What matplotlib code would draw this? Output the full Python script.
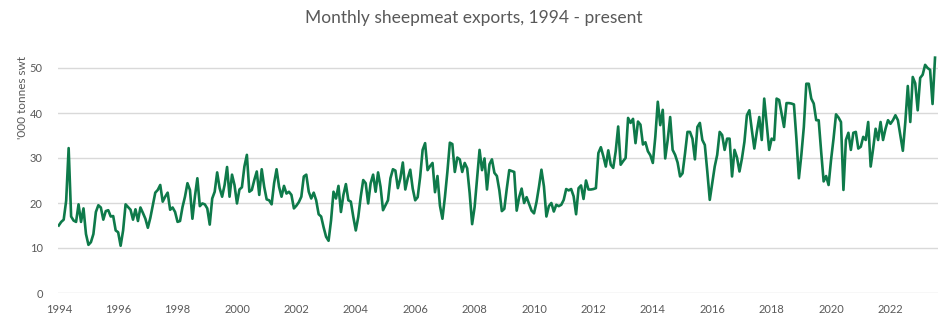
import matplotlib
matplotlib.use("Agg")
import matplotlib.pyplot as plt
import numpy as np

# Monthly sheepmeat exports ('000 tonnes swt), Jan 1994 onward
y1994 = [15, 15.8, 16.3, 20.5, 32.2, 17, 16.1, 15.8, 19.7, 15.8, 18.8, 13.1]
y1995 = [10.7, 11.3, 13.1, 18, 19.5, 19, 16.3, 18.2, 18.4, 17, 17.1, 13.9]
y1996 = [13.5, 10.5, 13.9, 19.7, 19.1, 18.5, 16.3, 18.6, 16, 19, 17.8, 16.5]
y1997 = [14.5, 16.7, 19.5, 22.3, 22.9, 24, 20.3, 21.4, 22.3, 18.5, 19, 18]
y1998 = [15.8, 16, 19.1, 21.4, 24.4, 22.9, 16.5, 21.4, 25.5, 19.3, 19.9, 19.7]
y1999 = [18.8, 15.2, 21, 22.5, 26.8, 23.3, 21.4, 24, 28, 21.4, 26.3, 24]
y2000 = [19.9, 23, 23.5, 28.1, 30.7, 22.5, 22.9, 25.1, 27, 21.8, 27.5, 23.6]
y2001 = [20.8, 20.6, 19.7, 24.4, 27.5, 23.6, 21.4, 23.8, 22.1, 22.5, 21.8, 18.8]
y2002 = [19.4, 20.2, 21.4, 25.9, 26.3, 22.5, 21, 22.3, 20.6, 17.5, 17, 14.6]
y2003 = [12.5, 11.6, 16.1, 22.5, 21, 23.8, 18, 21.8, 24.2, 20.6, 20.3, 16.9]
y2004 = [13.9, 16.9, 21.4, 25.1, 24.4, 19.9, 24.4, 26.3, 22.5, 26.8, 23.6, 18.4]
y2005 = [19.5, 20.6, 25.5, 27.5, 27.2, 23.3, 25.5, 29, 23, 25.5, 27.4, 23.2]
y2006 = [20.6, 21.3, 25.8, 31.8, 33.3, 27.3, 28.2, 28.9, 22.4, 26, 19.4, 16.5]
y2007 = [21.3, 26.9, 33.4, 33.1, 26.9, 30.1, 29.7, 26.9, 28.9, 27.7, 22.2, 15.3]
y2008 = [19.1, 25.4, 31.8, 27.3, 29.9, 23, 28.6, 29.7, 26.7, 26, 22.8, 18.2]
y2009 = [18.7, 23.2, 27.3, 27.1, 26.9, 18.3, 21.3, 23.2, 20, 21.3, 19.8, 18.3]
y2010 = [17.7, 20.2, 23.6, 27.4, 23.7, 17, 19.3, 20, 18.1, 19.6, 19.3, 19.6]
y2011 = [20.7, 23.1, 22.8, 23.1, 21.5, 17.5, 23.3, 23.9, 20.9, 25, 23, 23]
y2012 = [23.1, 23.3, 31.1, 32.4, 30.4, 28.1, 31.7, 28.5, 27.8, 31.5, 37, 28.5]
y2013 = [29.3, 30, 38.9, 37.8, 38.7, 33.3, 38.1, 37.4, 33, 33.5, 31.5, 30.6]
y2014 = [28.9, 34.7, 42.5, 37.3, 40.7, 29.9, 34, 39.1, 31.8, 30.7, 29, 25.9]
y2015 = [26.6, 31, 35.8, 35.8, 34.3, 29.7, 36.9, 37.8, 34, 32.9, 27, 20.7]
y2016 = [24.4, 28.1, 30.7, 35.8, 35.1, 31.8, 34.3, 34.3, 25.9, 31.8, 30.1, 27]
y2017 = [29.9, 33.6, 39.5, 40.6, 36.2, 32.1, 35.8, 39.1, 34, 43.2, 37.6, 31.8]
y2018 = [34.3, 34, 43.2, 42.9, 39.9, 36.9, 42.2, 42.2, 42.1, 41.9, 34.3, 25.5]
y2019 = [30.7, 36.9, 46.5, 46.5, 43.2, 42.1, 38.4, 38.4, 31.4, 24.8, 26, 24]
y2020 = [29.6, 34.3, 39.7, 39, 38, 22.9, 34, 35.6, 31.8, 35.6, 35.8, 32.1]
y2021 = [32.5, 34.7, 34, 38, 28.1, 32.1, 36.5, 34, 38, 34, 36.5, 38.4]
y2022 = [37.6, 38.4, 39.5, 38.4, 35, 31.6, 38, 46, 38, 48, 46.6, 40.6]
y2023 = [47.8, 48.5, 50.7, 50, 49.6, 42, 52.3]

tick_years = list(range(1994, 2024, 2))
yticks = [0, 10, 20, 30, 40, 50]

title = "Monthly sheepmeat exports, 1994 - present"
ylabel = "'000 tonnes swt"

series = (y1994 + y1995 + y1996 + y1997 + y1998 + y1999 + y2000 + y2001 + y2002 +
          y2003 + y2004 + y2005 + y2006 + y2007 + y2008 + y2009 + y2010 + y2011 +
          y2012 + y2013 + y2014 + y2015 + y2016 + y2017 + y2018 + y2019 + y2020 +
          y2021 + y2022 + y2023)
idx = np.arange(len(series))

plt.rcParams['font.family'] = ['Lato', 'DejaVu Sans']
grey = '#595959'

fig = plt.figure(figsize=(9.48, 3.23), dpi=100)
ax = fig.add_axes([58 / 948, 30 / 323, 880 / 948, 247.5 / 323])

ax.plot(idx, series, color='#0e7a4a', linewidth=1.9, solid_joinstyle='round')

ax.set_xlim(-0.3, len(series) + 0.2)
ax.set_ylim(0, 55)
ax.set_yticks(yticks)
ax.set_xticks([(y - 1994) * 12 for y in tick_years])
ax.set_xticklabels([str(y) for y in tick_years])
ax.grid(axis='y', color='#d9d9d9', linewidth=1)
ax.set_axisbelow(True)
for s in ax.spines.values():
    s.set_visible(False)
ax.tick_params(axis='both', length=0, colors=grey, labelsize=8)
ax.tick_params(axis='x', pad=8)
ax.tick_params(axis='y', pad=11)

fig.text(0.5, 1 - 18 / 323, title, ha='center', va='center', fontsize=12.5, color=grey)
fig.text(23 / 948, 1 - 98 / 323, ylabel, ha='center', va='center', rotation=90,
         fontsize=8.5, color=grey)

fig.savefig('out.png', dpi=100)
